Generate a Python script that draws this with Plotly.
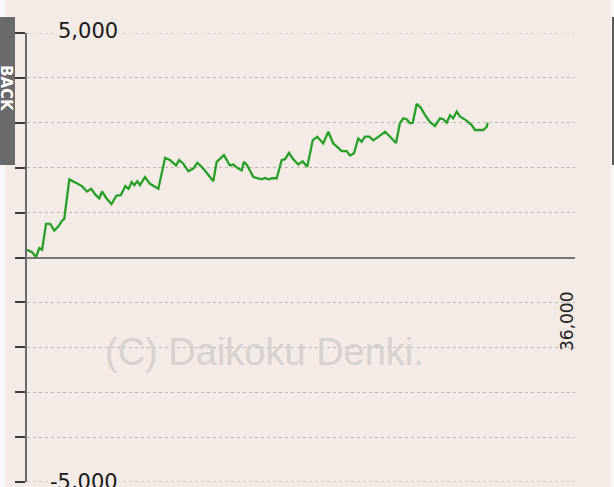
import plotly.graph_objects as go

# ---- data ----
games = [0, 330, 590, 810, 990, 1250, 1530, 1790, 2080, 2300, 2450, 2780, 3170, 3610,
         3940, 4220, 4490, 4750, 4930, 5240, 5550, 5880, 6170, 6460, 6670, 6880, 7050,
         7250, 7420, 7750, 8080, 8410, 8630, 9070, 9390, 9790, 10000, 10270, 10600,
         10920, 11190, 11580, 11910, 12240, 12460, 12790, 12940, 13330, 13550, 13880,
         14100, 14250, 14470, 14870, 15190, 15420, 15630, 15850, 16180, 16400, 16730,
         16950, 17210, 17490, 17820, 18110, 18410, 18770, 19070, 19460, 19790, 20120,
         20450, 20670, 21000, 21220, 21480, 21760, 21990, 22200, 22490, 22750, 23010,
         23190, 23520, 23850, 24240, 24500, 24720, 24940, 25160, 25340, 25600, 25860,
         26150, 26470, 26800, 27130, 27350, 27570, 27790, 28000, 28230, 28440, 28660,
         28880, 29210, 29430, 29650, 29870, 29980, 30200, 30260]
medals = [170, 120, 10, 210, 170, 750, 750, 600, 700, 820, 860, 1740, 1670, 1590,
          1470, 1530, 1400, 1320, 1470, 1310, 1190, 1380, 1390, 1590, 1530, 1680, 1610,
          1700, 1610, 1790, 1640, 1570, 1530, 2220, 2170, 2050, 2170, 2090, 1920,
          1980, 2110, 1980, 1830, 1700, 2130, 2240, 2280, 2050, 2070, 1980,
          1940, 2130, 2050, 1790, 1770, 1740, 1770, 1740, 1770, 1760, 2170,
          2190, 2330, 2190, 2070, 2140, 2020, 2610, 2690, 2540, 2800, 2540,
          2440, 2370, 2370, 2270, 2320, 2650, 2580, 2690, 2690, 2610, 2670,
          2720, 2800, 2690, 2550, 2990, 3100, 3080, 2990, 3000, 3420, 3340,
          3170, 3020, 2930, 3100, 3080, 3000, 3170, 3100, 3250, 3140, 3100,
          3050, 2950, 2840, 2840, 2850, 2840, 2910, 3000]

y_tick_vals = [-5000, -4000, -3000, -2000, -1000, 0, 1000, 2000, 3000, 4000, 5000]
y_edge_vals = [5000, -5000]
y_label_vals = [5000, -5000]
y_label_text = ["5,000", "-5,000"]
x_max = 36000
x_max_text = "36,000"
watermark = "(C) Daikoku Denki."

BG = "#f4ebe6"
W, H = 614, 487
L, R, T, B = 27, 39, 33, 5
PW, PH = W - L - R, H - T - B


def px(xp):
    return (xp - L) / PW


def py(yp):
    return (H - B - yp) / PH


fig = go.Figure()
fig.add_trace(go.Scatter(x=games, y=medals, mode="lines",
                         line=dict(color="#26a026", width=2.3),
                         hoverinfo="skip", showlegend=False))

fig.update_layout(
    width=W, height=H,
    margin=dict(l=L, r=R, t=T, b=B, pad=0),
    paper_bgcolor=BG, plot_bgcolor=BG,
    showlegend=False,
    xaxis=dict(range=[0, x_max], showgrid=False, zeroline=False, showline=False,
               showticklabels=False, ticks="", fixedrange=True),
    yaxis=dict(range=[-5000, 5000], tickvals=y_tick_vals, showticklabels=False,
               ticks="outside", ticklen=10, tickwidth=2, tickcolor="#3a3a3a",
               showline=True, linecolor="#6a6a6a", linewidth=2,
               showgrid=True, gridcolor="#bdb8b5", griddash="dot", gridwidth=1,
               zeroline=True, zerolinecolor="#777777", zerolinewidth=2,
               fixedrange=True),
)

# gridlines at the range edges (plotly omits them)
for v in y_edge_vals:
    fig.add_shape(type="line", xref="paper", yref="y", x0=0, x1=1, y0=v, y1=v,
                  line=dict(color="#bdb8b5", width=1, dash="dot"), layer="below")

# watermark
fig.add_annotation(x=px(264), y=py(352), xref="paper", yref="paper",
                   xanchor="center", yanchor="middle",
                   text=watermark, showarrow=False,
                   font=dict(family="Liberation Sans, Arial, sans-serif", size=38,
                             color="#d8d2ce"))

# y labels
for v, t in zip(y_label_vals, y_label_text):
    fig.add_annotation(x=px(119), y=v, xref="paper", yref="y", text=t,
                       showarrow=False, xanchor="right", yanchor="middle",
                       yshift=2 if v > 0 else 0,
                       bgcolor=BG, borderpad=0,
                       font=dict(family="DejaVu Sans, sans-serif", size=21, color="#1a1a1a"))

# x max label (rotated)
fig.add_annotation(x=x_max, y=py(322), xref="x", yref="paper", text=x_max_text,
                   showarrow=False, textangle=-90, xanchor="right", yanchor="middle",
                   xshift=4,
                   font=dict(family="DejaVu Sans, sans-serif", size=17, color="#222222"))

# page decorations at edges
fig.add_shape(type="rect", xref="paper", yref="paper", x0=px(0), x1=px(5),
              y0=py(H), y1=py(0), fillcolor="#f8f8f8", line=dict(width=0), layer="below")
fig.add_shape(type="rect", xref="paper", yref="paper", x0=px(-10), x1=px(15),
              y0=py(165), y1=py(17), fillcolor="#6a6a6a", line=dict(width=0), layer="below")
fig.add_annotation(x=px(6), y=py(88), xref="paper", yref="paper", text="<b>BACK</b>",
                   showarrow=False, textangle=90, xanchor="center", yanchor="middle",
                   font=dict(family="DejaVu Sans, sans-serif", size=15, color="#ffffff"))
fig.add_shape(type="rect", xref="paper", yref="paper", x0=px(611), x1=px(614),
              y0=py(H), y1=py(0), fillcolor="#f8f8f8", line=dict(width=0), layer="below")
fig.add_shape(type="rect", xref="paper", yref="paper", x0=px(612), x1=px(614),
              y0=py(165), y1=py(17), fillcolor="#5a5a5a", line=dict(width=0), layer="below")

fig.write_html("out.html", config={"displayModeBar": False},
               post_script="document.body.style.margin='0';document.body.style.overflow='hidden';")
